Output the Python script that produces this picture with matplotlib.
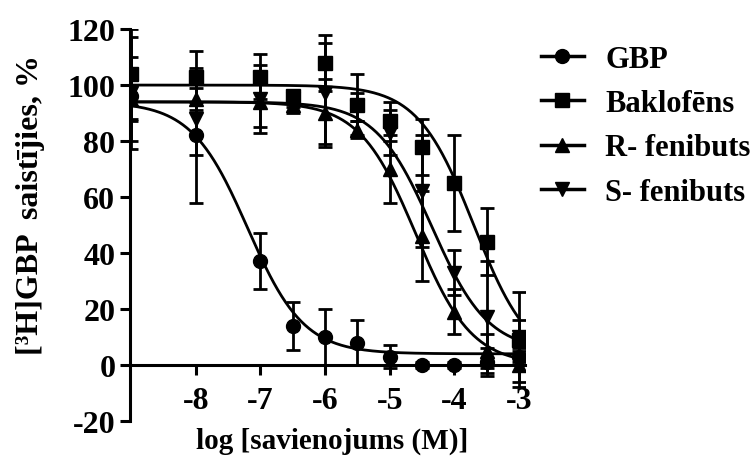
import numpy as np
import matplotlib
matplotlib.use("Agg")
import matplotlib.pyplot as plt

plt.rcParams['font.family'] = ['Liberation Serif', 'DejaVu Serif']
plt.rcParams['font.weight'] = 'bold'
plt.rcParams['axes.unicode_minus'] = False

# log concentrations
logc = [-9, -8, -7, -6.5, -6, -5.5, -5, -4.5, -4, -3.5, -3]

# mean binding, %
gbp = [96, 82, 37, 14, 10, 8, 3, 0, 0, 1, 3]
baklofens = [104, 103, 103, 96, 108, 93, 87, 78, 65, 44, 9]
r_fen = [95, 95, 94, 93, 90, 84, 70, 46, 19, 5, 0]
s_fen = [97, 88, 95, 95, 97, 92, 83, 62, 33, 17, 10]

# error bars
gbp_err = [9, 24, 10, 8.5, 10, 8, 4, 1, 1, 5, 2]
baklofens_err = [16, 9, 8, 2, 10, 11, 7, 10, 17, 12, 17]
r_fen_err = [15, 4, 9, 3, 12, 3, 12, 16, 8, 6, 6]
s_fen_err = [20, 13, 12, 3, 18, 5, 8, 20, 8, 20, 6]

labels = ['GBP', 'Baklofēns', 'R- fenibuts', 'S- fenibuts']
markers = ['o', 's', '^', 'v']

# fitted curve parameters: top, bottom, logIC50, hill
fit_top = [94, 100, 94, 94]
fit_bottom = [4, 0, 0, 5]
fit_logic50 = [-7.2, -3.7, -4.6, -4.35]
fit_hill = [1.0, 1.0, 1.0, 1.0]

means = [gbp, baklofens, r_fen, s_fen]
errs = [gbp_err, baklofens_err, r_fen_err, s_fen_err]

fig = plt.figure(figsize=(7.55, 4.6), dpi=100)
ax = fig.add_axes([0.172, 0.0826, 0.524, 0.852])

xs = np.linspace(-9, -3, 300)
handles = []
for i in range(4):
    ax.errorbar(logc, means[i], yerr=errs[i], fmt='none', ecolor='black',
                elinewidth=2, capsize=5, capthick=2, zorder=3)
    ax.plot(logc, means[i], linestyle='none', marker=markers[i], color='black',
            markersize=10, zorder=4)
    curve = fit_bottom[i] + (fit_top[i] - fit_bottom[i]) / (1 + 10 ** ((xs - fit_logic50[i]) * fit_hill[i]))
    ax.plot(xs, curve, color='black', linewidth=2, zorder=2)
    h, = ax.plot([], [], color='black', marker=markers[i], markersize=10, linewidth=2.5)
    handles.append(h)

ax.set_xlim(-9.02, -2.9)
ax.set_ylim(-20, 120)
ax.set_yticks(range(-20, 121, 20))
ax.set_xticks([-8, -7, -6, -5, -4, -3])
ax.spines['top'].set_visible(False)
ax.spines['right'].set_visible(False)
ax.spines['bottom'].set_position(('data', 0))
ax.spines['left'].set_linewidth(2.2)
ax.spines['bottom'].set_linewidth(2.2)
ax.tick_params(axis='both', width=2.2, length=7, labelsize=23, direction='out')
ax.tick_params(axis='x', pad=8)
for lab in ax.get_xticklabels() + ax.get_yticklabels():
    lab.set_fontweight('bold')

fig.text(0.44, 0.04, 'log [savienojums (M)]', ha='center', va='center',
         fontsize=21, fontweight='bold')
fig.text(0.04, 0.555, '[³H]GBP  saistījies, %', ha='center', va='center',
         rotation=90, fontsize=23, fontweight='bold')

fig.legend(handles, labels, loc='upper left', bbox_to_anchor=(0.68, 0.96),
           frameon=False, prop={'size': 22, 'weight': 'bold'},
           handlelength=1.4, labelspacing=0.5, handletextpad=0.7)

fig.savefig('out.png', dpi=100)
